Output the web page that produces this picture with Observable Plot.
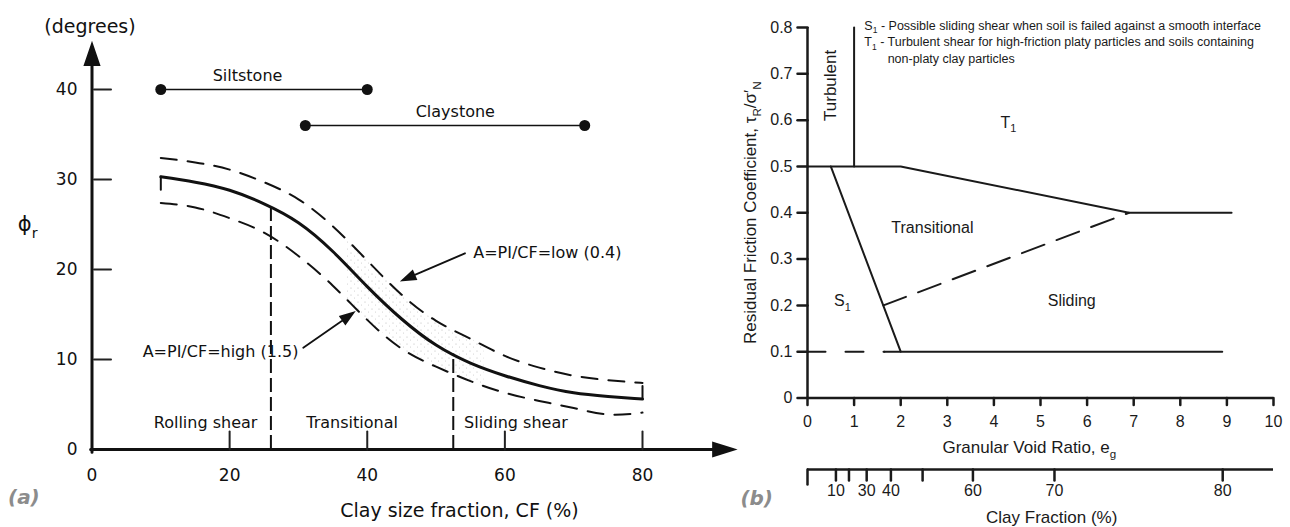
<!DOCTYPE html>
<html><head><meta charset="utf-8">
<script src="https://cdn.jsdelivr.net/npm/d3@7"></script>
<script src="https://cdn.jsdelivr.net/npm/@observablehq/plot@0.6"></script>
<style>
html,body{margin:0;padding:0;background:#fff;}
#wrap{position:relative;width:1290px;height:527px;overflow:hidden;background:#fff;}
#pa,#pb{position:absolute;top:0;}
#pa{left:0;width:700px;height:527px;}
#pb{left:700px;width:590px;height:527px;}
svg{overflow:visible;display:block;}
</style></head><body>
<div id="wrap"><div id="pa"></div><div id="pb"></div></div>
<script>
// ================= Panel (a) data =================
const cf        = [10, 15, 20, 25, 30, 35, 40, 45, 50, 55, 60, 65, 70, 75, 80];
const phiMean   = [30.3, 29.7, 28.8, 27.3, 25.2, 22.0, 18.1, 14.5, 11.6, 9.6, 8.2, 7.1, 6.3, 5.9, 5.6];
const phiLowA   = [32.4, 31.9, 31.1, 29.7, 27.8, 24.8, 21.0, 17.2, 14.3, 12.3, 10.4, 9.1, 8.2, 7.7, 7.4];
const phiHighA  = [27.4, 26.9, 25.7, 24.1, 21.5, 18.2, 14.4, 11.2, 9.2, 7.6, 6.3, 5.4, 4.6, 3.9, 4.1];
const cfShade   = [37, 40, 43, 46, 49, 52, 55, 57];
const shadeLo   = [16.6, 14.4, 12.5, 10.7, 9.6, 8.6, 7.6, 7.1];
const shadeHi   = [23.3, 21.0, 19.0, 16.5, 14.8, 13.5, 12.3, 11.7];
const shearBounds = [26, 52.5];
const boundTop    = [26.9, 10.6];
const regionNames = ["Rolling shear", "Transitional", "Sliding shear"];
const regionX     = [16.5, 37.8, 61.6];
const regionPhi   = 3.0;
const rockNames = ["Siltstone", "Claystone"];
const rockFrom  = [10, 31];
const rockTo    = [40, 71.6];
const rockPhi   = [40, 36];
const rockLabelX = [22.6, 52.8];
const yTickValsA = [0, 10, 20, 30, 40];
const yTickMarksA = [10, 20, 30, 40];
const xTickValsA = [0, 20, 40, 60, 80];
const xTickMarksA = [20, 40, 60, 80];
const annotHigh = {text: "A=PI/CF=high (1.5)", x: 30.0, y: 10.8};
const annotLow  = {text: "A=PI/CF=low (0.4)",  x: 55.4, y: 21.9};
const arrowFromX = [30.7, 54.2], arrowFromY = [11.3, 21.8];
const arrowToX   = [38.0, 45.1], arrowToY   = [15.2, 18.8];

// ================= Panel (b) data =================
const egTicks = [0,1,2,3,4,5,6,7,8,9,10];
const muTicks = [0,0.1,0.2,0.3,0.4,0.5,0.6,0.7,0.8];
const turbX = [1, 1],           turbY = [0.5, 0.8];
const upperX = [0, 2, 6.9, 9.1], upperY = [0.5, 0.5, 0.4, 0.4];
const s1X = [0.5, 2],           s1Y = [0.5, 0.1];
const slideX = [1.65, 8.9],     slideY = [0.1, 0.1];
const dashLowX = [0, 1.65],     dashLowY = [0.1, 0.1];
const dashDiagX = [1.63, 6.9],  dashDiagY = [0.2, 0.4];
const cfAxisValues = [10, 20, 30, 40, 50, 60, 70, 80];
const cfAxisEg     = [0.61, 0.89, 1.27, 1.79, 2.47, 3.55, 5.30, 8.91];
const cfAxisLabels = ["10", "", "30", "40", "", "60", "70", "80"];
const zoneNames = ["T_{1}", "Transitional", "S_{1}", "Sliding"];
const zoneX = [4.31, 2.68, 0.75, 5.67];
const zoneY = [0.595, 0.368, 0.21, 0.21];
const noteLines = [
  "S_{1} - Possible sliding shear when soil is failed against a smooth interface",
  "T_{1} - Turbulent shear for high-friction platy particles and soils containing",
  "non-platy clay particles"
];
const noteX = [1.22, 1.22, 1.72];
const noteY = [0.804, 0.768, 0.731];

// ================= helpers =================
const tickShape = {draw(ctx, l) { ctx.moveTo(0, 0); ctx.lineTo(0, -l); }};
function arrowShape(h, w) {
  return {draw(ctx, l) {
    ctx.moveTo(0, 0); ctx.lineTo(0, -(l - h));
    ctx.moveTo(0, -l); ctx.lineTo(-w, -(l - h)); ctx.lineTo(w, -(l - h)); ctx.closePath();
  }};
}
function arrowMark(sx, sy, x1, y1, x2, y2, h, w, sw) {
  const dx = sx(x2) - sx(x1), dy = sy(y2) - sy(y1);
  return Plot.vector([0], {x: () => x1, y: () => y1, length: Math.hypot(dx, dy),
    rotate: Math.atan2(dx, -dy) * 180 / Math.PI, anchor: "start", shape: arrowShape(h, w),
    stroke: "#111", fill: "#111", strokeWidth: sw, strokeLinejoin: "miter"});
}
const idx = n => d3.range(n);
const NS = "http://www.w3.org/2000/svg";
function richify(svg) {
  svg.querySelectorAll("text").forEach(t => {
    const s = t.textContent;
    if (!s.includes("_{")) return;
    const fs = parseFloat(getComputedStyle(t).fontSize) || 14;
    const shift = fs * 0.3;
    const parts = s.split(/_\{([^}]*)\}/);
    while (t.firstChild) t.removeChild(t.firstChild);
    let down = false;
    parts.forEach((p, i) => {
      if (!p) return;
      const ts = document.createElementNS(NS, "tspan");
      ts.textContent = p;
      if (i % 2 === 1) { ts.setAttribute("font-size", (fs * 0.68) + "px"); if (!down) ts.setAttribute("dy", shift); down = true; }
      else if (down) { ts.setAttribute("dy", -shift); down = false; }
      t.appendChild(ts);
    });
  });
}
function hasFont(name) {
  const c = document.createElement("canvas").getContext("2d");
  const s = "mmmmmmmmmmlliWWWabc";
  c.font = "40px monospace"; const w1 = c.measureText(s).width;
  c.font = `40px "${name}", monospace`; return Math.abs(c.measureText(s).width - w1) > 0.5;
}

// ================= Panel (a) =================
const xA = {domain: [0, 80], range: [91.5, 642]};
const yA = {domain: [0, 40], range: [449, 89]};
const sxA = d3.scaleLinear(xA.domain, xA.range), syA = d3.scaleLinear(yA.domain, yA.range);
const fA = '"DejaVu Sans", sans-serif';
const ink = "#111";

const plotA = Plot.plot({
  width: 700, height: 527,
  x: {...xA, axis: null}, y: {...yA, axis: null},
  style: {fontFamily: fA, fontSize: "16px", color: ink, background: "transparent"},
  marks: [
    Plot.areaY(cfShade, {x: cfShade, y1: shadeLo, y2: shadeHi, fill: "url(#stipple)", curve: "natural"}),
    Plot.ruleX(shearBounds, {x: d => d, y1: 0, y2: boundTop, stroke: ink, strokeWidth: 2, strokeDasharray: "14,5"}),
    Plot.line(cf, {x: cf, y: phiLowA, curve: "natural", stroke: ink, strokeWidth: 2, strokeDasharray: "16,11"}),
    Plot.line(cf, {x: cf, y: phiHighA, curve: "natural", stroke: ink, strokeWidth: 2, strokeDasharray: "16,11"}),
    Plot.line(cf, {x: cf, y: phiMean, curve: "natural", stroke: ink, strokeWidth: 3}),
    Plot.vector([0], {x: () => cf[0], y: () => phiMean[0], length: 13, rotate: 180, anchor: "start", shape: tickShape, stroke: ink, strokeWidth: 2}),
    Plot.vector([0], {x: () => cf[cf.length - 1], y: () => phiMean[phiMean.length - 1], length: 13, rotate: 0, anchor: "start", shape: tickShape, stroke: ink, strokeWidth: 2}),
    // rock ranges
    Plot.link(idx(2), {x1: i => rockFrom[i], x2: i => rockTo[i], y1: i => rockPhi[i], y2: i => rockPhi[i], stroke: ink, strokeWidth: 1.6}),
    Plot.dot(idx(2), {x: i => rockFrom[i], y: i => rockPhi[i], r: 5.5, fill: ink}),
    Plot.dot(idx(2), {x: i => rockTo[i], y: i => rockPhi[i], r: 5.5, fill: ink}),
    Plot.text(idx(2), {x: i => rockLabelX[i], y: i => rockPhi[i], dy: -13.5, text: i => rockNames[i], fontSize: 16, fill: ink}),
    // region labels
    Plot.text(idx(3), {x: i => regionX[i], y: regionPhi, text: i => regionNames[i], fontSize: 16, fill: ink}),
    // annotations
    Plot.text([annotHigh], {x: "x", y: "y", text: "text", textAnchor: "end", fontSize: 16, fill: ink}),
    Plot.text([annotLow], {x: "x", y: "y", text: "text", textAnchor: "start", fontSize: 16, fill: ink}),
    ...idx(2).map(i => arrowMark(sxA, syA, arrowFromX[i], arrowFromY[i], arrowToX[i], arrowToY[i], 13, 4.5, 1.8)),
    // axes
    arrowMark(sxA, syA, 0, -0.3, 0, 44.9, 19, 6.5, 3),
    arrowMark(sxA, syA, -0.2, 0, 93.1, 0, 19, 6, 3),
    Plot.vector(yTickMarksA, {x: 0, y: d => d, length: 17, rotate: 90, anchor: "start", shape: tickShape, stroke: "#222", strokeWidth: 2, dx: 2}),
    Plot.vector(xTickMarksA, {x: d => d, y: 0, length: 18, rotate: 0, anchor: "start", shape: tickShape, stroke: "#222", strokeWidth: 2}),
    Plot.text(yTickValsA, {x: 0, y: d => d, text: d => String(d), textAnchor: "end", dx: -14.5, fontSize: 17, fill: ink}),
    Plot.text(xTickValsA, {x: d => d, y: 0, dy: 26, text: d => String(d), fontSize: 17, fill: ink}),
    Plot.text(["(degrees)"], {x: -0.29, y: 46.9, text: d => d, fontSize: 19, fill: ink}),
    Plot.text(["ϕ_{r}"], {x: -9.35, y: 25.0, text: d => d, fontSize: 21, fill: ink}),
    Plot.text(["Clay size fraction, CF (%)"], {x: 53.4, y: 0, dy: 61, text: d => d, fontSize: 19, fill: ink}),
    Plot.text(["(a)"], {x: -9.9, y: 0, dy: 48, text: d => d, fontSize: 20, fontWeight: "bold", fontStyle: "italic", fill: "#8c8c8c"})
  ]
});
// stipple pattern
(function addPattern(svg) {
  const defs = document.createElementNS(NS, "defs");
  const pat = document.createElementNS(NS, "pattern");
  pat.setAttribute("id", "stipple"); pat.setAttribute("width", "7"); pat.setAttribute("height", "7");
  pat.setAttribute("patternUnits", "userSpaceOnUse");
  [[1, 1, 0.55, "#b4b4b4"], [4.5, 4, 0.5, "#c4c4c4"]].forEach(([cx, cy, r, f]) => {
    const c = document.createElementNS(NS, "circle");
    c.setAttribute("cx", cx); c.setAttribute("cy", cy); c.setAttribute("r", r); c.setAttribute("fill", f);
    pat.appendChild(c);
  });
  defs.appendChild(pat); svg.insertBefore(defs, svg.firstChild);
})(plotA);
document.getElementById("pa").appendChild(plotA);
richify(plotA);

// ================= Panel (b) =================
const xB = {domain: [0, 10], range: [107, 573]};
const yB = {domain: [0, 0.8], range: [397.5, 27]};
const fB = '"Liberation Sans", Arial, sans-serif';
const inkB = "#1a1a1a";
const narrow = hasFont("Liberation Sans Narrow");
const noteFont = narrow ? {fontFamily: '"Liberation Sans Narrow", sans-serif', fontSize: 15} : {fontFamily: fB, fontSize: 12.5};
const cfOff = 71.5;

const plotB = Plot.plot({
  width: 590, height: 527,
  x: {...xB, axis: null}, y: {...yB, axis: null},
  style: {fontFamily: fB, fontSize: "16px", color: inkB, background: "transparent"},
  marks: [
    // region boundaries
    Plot.line(idx(2), {x: i => turbX[i], y: i => turbY[i], stroke: inkB, strokeWidth: 2}),
    Plot.line(idx(4), {x: i => upperX[i], y: i => upperY[i], stroke: inkB, strokeWidth: 2}),
    Plot.line(idx(2), {x: i => s1X[i], y: i => s1Y[i], stroke: inkB, strokeWidth: 2}),
    Plot.line(idx(2), {x: i => slideX[i], y: i => slideY[i], stroke: inkB, strokeWidth: 2}),
    Plot.line(idx(2), {x: i => dashLowX[i], y: i => dashLowY[i], stroke: inkB, strokeWidth: 2, strokeDasharray: "18,20"}),
    Plot.line(idx(2), {x: i => dashDiagX[i], y: i => dashDiagY[i], stroke: inkB, strokeWidth: 2, strokeDasharray: "24,13"}),
    // axes
    Plot.ruleX([0], {y1: 0, y2: 0.8, stroke: inkB, strokeWidth: 2.5}),
    Plot.ruleY([0], {x1: 0, x2: 10, stroke: inkB, strokeWidth: 2.5}),
    Plot.vector(muTicks, {x: 0, y: d => d, length: 10, rotate: -90, anchor: "start", shape: tickShape, stroke: inkB, strokeWidth: 2.5}),
    Plot.vector(egTicks, {x: d => d, y: 0, length: 7, rotate: 180, anchor: "start", shape: tickShape, stroke: inkB, strokeWidth: 2.5}),
    Plot.text(muTicks, {x: 0, y: d => d, text: d => d === 0 ? "0" : d3.format(".1f")(d), textAnchor: "end", dx: -15, fontSize: 16, fill: inkB}),
    Plot.text(egTicks, {x: d => d, y: 0, dy: 24, text: d => String(d), fontSize: 16, fill: inkB}),
    Plot.text(["Granular Void Ratio, e_{g}"], {x: 4.76, y: 0, dy: 49.5, text: d => d, fontSize: 17, fill: inkB}),
    Plot.text(["Residual Friction Coefficient, τ_{R}/σ′_{N}"], {x: -1.22, y: 0.4, text: d => d, rotate: -90, fontSize: 17, fill: inkB}),
    // clay fraction axis
    Plot.ruleY([0], {x1: 0, x2: 10, dy: cfOff, stroke: inkB, strokeWidth: 2.5}),
    Plot.vector([0], {x: 0, y: 0, dy: cfOff, length: 15, rotate: 180, anchor: "start", shape: tickShape, stroke: inkB, strokeWidth: 2.5}),
    Plot.vector(idx(cfAxisEg.length), {x: i => cfAxisEg[i], y: 0, dy: cfOff, length: 11, rotate: 180, anchor: "start", shape: tickShape, stroke: inkB, strokeWidth: 2.5}),
    Plot.text(idx(cfAxisEg.length), {x: i => cfAxisEg[i], y: 0, dy: 92.5, text: i => cfAxisLabels[i], fontSize: 16, fill: inkB}),
    Plot.text(["Clay Fraction (%)"], {x: 5.24, y: 0, dy: 119.5, text: d => d, fontSize: 17, fill: inkB}),
    // zone labels
    Plot.text(["Turbulent"], {x: 0.49, y: 0.675, text: d => d, rotate: -90, fontSize: 17, fill: inkB}),
    Plot.text(idx(zoneNames.length), {x: i => zoneX[i], y: i => zoneY[i], text: i => zoneNames[i], fontSize: 16, fill: inkB}),
    Plot.text(idx(3), {x: i => noteX[i], y: i => noteY[i], text: i => noteLines[i], textAnchor: "start", fill: inkB, ...noteFont}),
    Plot.text(["(b)"], {x: -1.09, y: 0, dy: 100.5, text: d => d, fontSize: 20, fontWeight: "bold", fontStyle: "italic", fontFamily: '"DejaVu Sans", sans-serif', fill: "#8c8c8c"})
  ]
});
document.getElementById("pb").appendChild(plotB);
richify(plotB);
</script>
</body></html>
